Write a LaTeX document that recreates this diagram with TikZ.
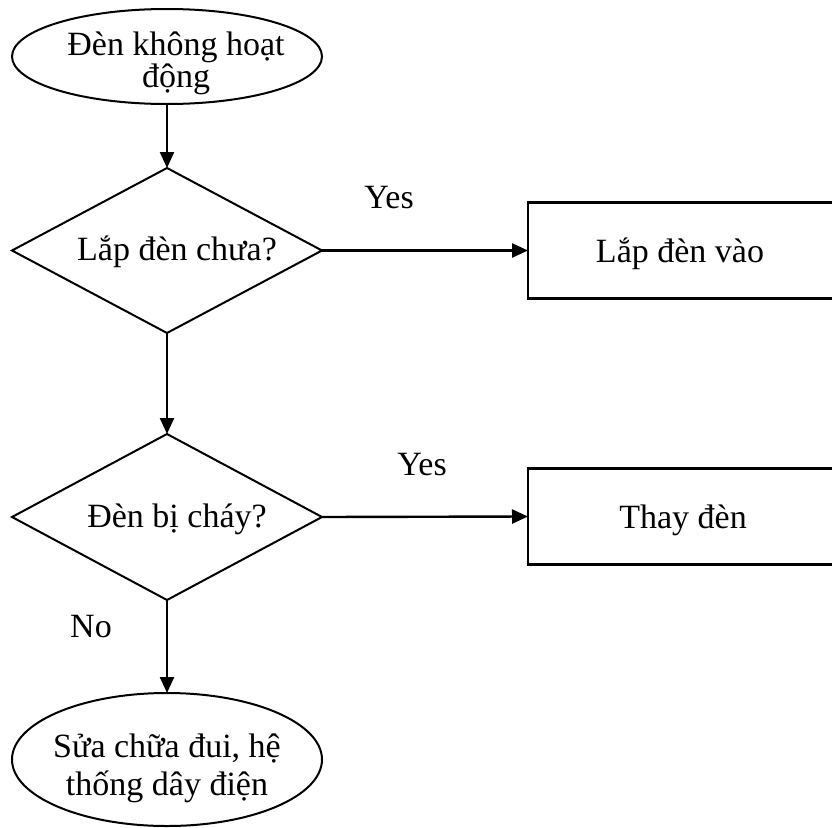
\documentclass[tikz,border=0pt]{standalone}
\usepackage{fontspec}
\setmainfont{Liberation Serif}
\usetikzlibrary{shapes.geometric,arrows.meta}

\tikzset{
  every node/.style={inner sep=0pt, outer sep=0pt},
  txt/.style={font=\fontsize{34}{38}\selectfont, align=center, anchor=base},
  oval/.style={draw, ellipse, line width=2pt, minimum width=310pt},
  decision/.style={draw, diamond, line width=2pt, minimum width=310pt},
  action/.style={draw, rectangle, line width=2.2pt, minimum width=308pt, minimum height=96pt},
  flow/.style={line width=2.4pt, -{Triangle[length=16pt,width=14pt]}}
}

\begin{document}
\begin{tikzpicture}[x=1pt, y=-1pt]
  \useasboundingbox[fill=white] (0,0) rectangle (832,827);

  % shapes
  \node[oval, minimum height=95pt] (start) at (167,56.5) {};
  \node[decision, minimum height=165pt] (q1) at (167,250.5) {};
  \node[action] (fit) at (682,250.5) {};
  \node[decision, minimum height=166pt] (q2) at (167,517) {};
  \node[action] (swap) at (682,516.5) {};
  \node[oval, minimum height=133pt] (repair) at (167,759.5) {};

  % texts (two-line texts are anchored on the baseline of their last line)
  \node[txt] (tstart) at (176,87) {Đèn không hoạt\\[-6pt]động};
  \node[txt] (tq1) at (177,260) {Lắp đèn chưa?};
  \node[txt] (tfit) at (680,262) {Lắp đèn vào};
  \node[txt] (tq2) at (177,527) {Đèn bị cháy?};
  \node[txt] (tswap) at (683,528) {Thay đèn};
  \node[txt] (trepair) at (167,795) {Sửa chữa đui, hệ\\thống dây điện};

  % branch labels
  \node[txt] (yes1) at (389,208) {Yes};
  \node[txt] (yes2) at (422,475) {Yes};
  \node[txt] (no2) at (91,637) {No};

  % connectors
  \draw[flow] (start.south) -- (q1.north);
  \draw[flow] (q1.east) -- (fit.west);
  \draw[flow] (q1.south) -- (q2.north);
  \draw[flow] (q2.east) -- (swap.west);
  \draw[flow] (q2.south) -- (repair.north);
\end{tikzpicture}
\end{document}
